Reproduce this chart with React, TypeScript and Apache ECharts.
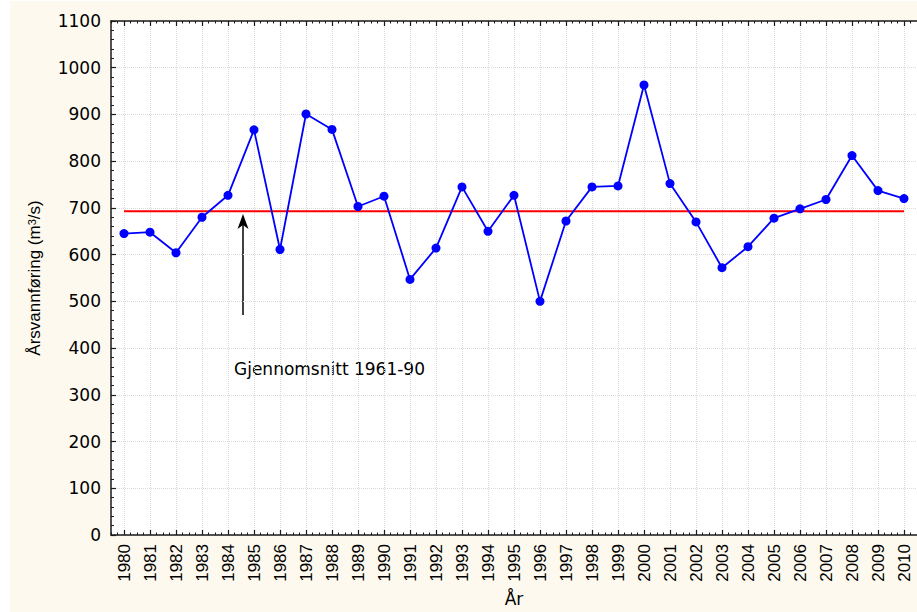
import React, { useEffect, useRef } from "react";
import * as echarts from "echarts";

const years: string[] = [
  "1980", "1981", "1982", "1983", "1984", "1985", "1986", "1987", "1988", "1989",
  "1990", "1991", "1992", "1993", "1994", "1995", "1996", "1997", "1998", "1999",
  "2000", "2001", "2002", "2003", "2004", "2005", "2006", "2007", "2008", "2009", "2010",
];
const discharge: number[] = [
  645, 648, 604, 680, 727, 867, 611, 901, 868, 703,
  725, 547, 614, 745, 650, 727, 500, 672, 745, 747,
  963, 752, 670, 572, 617, 678, 698, 718, 812, 737, 720,
];
const mean1961_90 = 693;
const yMin = 0;
const yMax = 1100;
const yStep = 100;
const annotationText = "Gjennomsnitt 1961-90";

const AXIS = "#1a1a1a";
const GRIDC = "#d9d9d9";
const HFONT = "DejaVu Sans";
const VFONT = "Liberation Sans";

export default function App() {
  const ref = useRef<HTMLDivElement>(null);
  useEffect(() => {
    if (!ref.current) return;
    const chart = echarts.init(ref.current, null, { renderer: "svg" });
    const n = years.length;
    const minorAxis = (pos: "top" | "bottom") => ({
      type: "value",
      position: pos,
      min: -0.5,
      max: n - 0.5,
      interval: 0.25,
      axisLine: { show: false, onZero: false },
      axisLabel: { show: false },
      axisTick: { show: true, inside: true, length: 2.5, lineStyle: { color: AXIS, width: 1 } },
      splitLine: { show: false },
    });
    chart.setOption({
      animation: false,
      backgroundColor: "#FDF9EE",
      graphic: [
        { type: "rect", silent: true, shape: { x: 0, y: 0, width: 10, height: 612 }, style: { fill: "#ffffff" } },
        { type: "rect", silent: true, shape: { x: 0, y: 0, width: 917, height: 1 }, style: { fill: "#ffffff" } },
        { type: "line", silent: true, shape: { x1: 243, y1: 315, x2: 243, y2: 224 }, style: { stroke: "#000", lineWidth: 1.5 } },
        {
          type: "polygon", silent: true,
          shape: { points: [[243, 214], [237.5, 229], [243, 225], [248.5, 229]] },
          style: { fill: "#000" },
        },
        {
          type: "text", silent: true, x: 234, y: 369,
          style: { text: annotationText, font: `17px "${HFONT}"`, fill: "#000", verticalAlign: "middle", align: "left" },
        },
      ],
      grid: {
        left: 111, right: -8, top: 21, bottom: 76,
        show: true, backgroundColor: "#ffffff", borderWidth: 0,
      },
      xAxis: [
        {
          type: "category",
          data: years,
          position: "bottom",
          boundaryGap: true,
          name: "År",
          nameLocation: "middle",
          nameGap: 55,
          nameTextStyle: { fontFamily: HFONT, fontSize: 17, color: "#000" },
          axisLine: { show: true, onZero: false, lineStyle: { color: AXIS, width: 1.5 } },
          axisTick: { show: true, inside: true, alignWithLabel: true, length: 5, interval: 0, lineStyle: { color: AXIS, width: 1.2 } },
          axisLabel: { rotate: 90, interval: 0, margin: 9, fontFamily: VFONT, fontSize: 17, color: "#000" },
          splitLine: { show: true, interval: 0, alignWithLabel: true, lineStyle: { color: GRIDC, type: "dotted", width: 1 } },
        },
        minorAxis("bottom"),
        {
          type: "category",
          data: years,
          position: "top",
          boundaryGap: true,
          axisLine: { show: true, onZero: false, lineStyle: { color: AXIS, width: 1.5 } },
          axisTick: { show: true, inside: true, alignWithLabel: true, length: 5, interval: 0, lineStyle: { color: AXIS, width: 1.2 } },
          axisLabel: { show: false },
          splitLine: { show: false },
        },
        minorAxis("top"),
      ],
      yAxis: [
        {
          type: "value",
          min: yMin,
          max: yMax,
          interval: yStep,
          name: "Årsvannføring (m{sup|3}/s)",
          nameLocation: "middle",
          nameGap: 68,
          nameTextStyle: {
            fontFamily: VFONT, fontSize: 17, color: "#000",
            rich: { sup: { fontFamily: VFONT, fontSize: 11, color: "#000", verticalAlign: "top", lineHeight: 11 } },
          },
          axisLine: { show: true, onZero: false, lineStyle: { color: AXIS, width: 1.5 } },
          axisTick: { show: true, inside: true, length: 5, lineStyle: { color: AXIS, width: 1.2 } },
          minorTick: { show: true, splitNumber: 5, length: 3, lineStyle: { color: AXIS, width: 1 } },
          axisLabel: {
            margin: 10, fontFamily: HFONT, fontSize: 17, color: "#000",
            formatter: (v: number) => String(v),
          },
          splitLine: { show: true, lineStyle: { color: GRIDC, type: "dotted", width: 1 } },
        },
      ],
      series: [
        {
          type: "line",
          name: "Gjennomsnitt 1961-90",
          xAxisIndex: 0,
          yAxisIndex: 0,
          data: years.map(() => mean1961_90),
          symbol: "none",
          lineStyle: { color: "#FF0000", width: 2 },
          itemStyle: { color: "#FF0000" },
          z: 2,
          silent: true,
        },
        {
          type: "line",
          name: "Årsvannføring",
          xAxisIndex: 0,
          yAxisIndex: 0,
          data: discharge,
          symbol: "circle",
          symbolSize: 9,
          showSymbol: true,
          lineStyle: { color: "#0000FF", width: 1.8 },
          itemStyle: { color: "#0000FF" },
          z: 3,
        },
      ],
    });
    return () => chart.dispose();
  }, []);
  return (
    <div
      ref={ref}
      style={{ position: "absolute", left: 0, top: 0, width: 917, height: 612 }}
    />
  );
}
